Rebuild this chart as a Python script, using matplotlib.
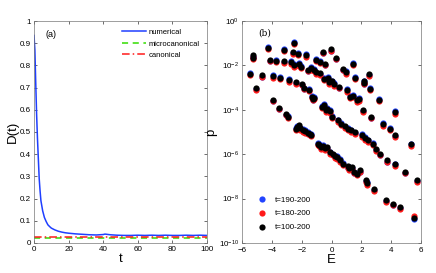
import numpy as np
import matplotlib
matplotlib.use("Agg")
import matplotlib.pyplot as plt

plt.rcParams['font.family'] = ['Liberation Sans', 'DejaVu Sans']

# ---- panel (a): D(t) ----
t_num = [0, 0.5, 1, 1.5, 2, 2.5, 3, 3.5, 4, 5, 6, 7, 8, 9, 10, 12, 14, 16, 18, 20,
         24, 28, 32, 36, 40, 41, 42, 44, 48, 52, 56, 60, 64, 68, 72, 76, 80, 84,
         88, 92, 96, 100]
D_num = [0.935, 0.87, 0.72, 0.58, 0.47, 0.38, 0.29, 0.235, 0.19, 0.145, 0.115, 0.097,
         0.082, 0.074, 0.067, 0.059, 0.053, 0.049, 0.046, 0.044, 0.041, 0.039, 0.037,
         0.036, 0.038, 0.040, 0.039, 0.037, 0.035, 0.034, 0.034, 0.035, 0.034, 0.035,
         0.034, 0.035, 0.034, 0.034, 0.035, 0.034, 0.035, 0.034]
t_ref = [0, 100]
D_micro = [0.022, 0.022]
D_canon = [0.027, 0.027]

# ---- panel (b): p(E) on log scale (values are log10 p) ----
E = [-5.44, -5.26, -5.26, -5.04, -4.66, -4.28, -4.15, -3.93, -3.93, -3.75,
     -3.52, -3.43, -3.17, -3.17, -3.03, -2.94, -2.85, -2.59, -2.54, -2.50,
     -2.41, -2.27, -2.36, -2.19, -2.05, -2.00, -1.92, -1.83, -1.69, -1.60,
     -1.52, -1.43, -1.30, -1.25, -1.03, -1.03, -0.94, -0.80, -0.76, -0.71,
     -0.62, -0.58, -0.53, -0.42, -0.40, -0.31, -0.18, -0.04, 0.02, 0.09,
     0.18, 0.31, 0.36, 0.47, 0.63, 0.76, 0.76, 0.89, 0.98, 1.07,
     1.21, 1.36, 1.43, 1.52, 1.60, 1.60, 1.70, 1.92, 2.03, 2.10,
     2.19, 2.19, 2.28, 2.41, 2.50, 2.59, 2.63, 2.77, 2.86, 2.99,
     3.15, 3.26, 3.44, 3.70, 3.66, 3.88, 4.10, 4.28, 4.28, 4.28,
     4.55, 4.95, 5.31, 5.53, 5.71,
     -2.30, -2.10, -1.75, -1.55, -1.35, -0.85, -0.55, -0.45, -0.10, 0.25,
     0.55, 1.15, 1.70, 2.35,
     -1.15, -0.50, -0.30, -0.10, 0.45, 1.10, 1.30, 2.25,
     -2.75, -2.20, -1.40, -1.20, -0.25, 0.05, 1.00, 1.45, 1.85]
lp_100 = [-2.37, -1.55, -1.65, -3.00, -2.45, -1.22, -1.74, -2.49, -3.54, -1.80,
          -3.90, -2.55, -1.29, -1.80, -4.17, -4.32, -2.67, -1.40, -0.99, -2.00,
          -2.75, -1.47, -4.85, -4.70, -2.07, -2.82, -4.92, -3.00, -1.55, -2.19,
          -3.09, -5.08, -3.42, -3.50, -1.74, -2.30, -5.53, -2.35, -1.84, -5.68,
          -3.87, -1.40, -2.60, -1.93, -4.02, -5.68, -2.75, -1.28, -4.32, -5.98,
          -2.84, -1.65, -6.13, -2.97, -4.62, -2.15, -6.43, -4.74, -2.30, -6.55,
          -3.42, -6.58, -1.92, -6.80, -2.55, -5.00, -3.57, -6.73, -5.15, -4.02,
          -2.72, -2.79, -7.18, -5.38, -2.40, -3.05, -4.32, -5.53, -7.55, -5.77,
          -3.54, -5.98, -4.65, -6.28, -8.08, -4.85, -8.23, -4.10, -5.15, -6.46,
          -8.38, -6.80, -5.56, -8.86, -7.18,
          -4.78, -4.84, -4.97, -5.03, -5.13, -5.58, -5.64, -5.74, -5.92, -6.10,
          -6.27, -6.62, -6.88, -7.30,
          -3.45, -3.80, -3.97, -4.06, -4.48, -4.85, -4.93, -5.27,
          -1.86, -1.94, -2.12, -2.20, -2.56, -2.72, -3.12, -3.36, -3.52]
lp_180 = [-2.43, -1.62, -1.72, -3.10, -2.52, -1.28, -1.80, -2.55, -3.62, -1.86,
          -3.97, -2.62, -1.35, -1.87, -4.24, -4.38, -2.74, -1.47, -1.05, -2.07,
          -2.82, -1.54, -4.92, -4.77, -2.13, -2.89, -4.99, -3.07, -1.62, -2.26,
          -3.16, -5.15, -3.49, -3.57, -1.81, -2.37, -5.60, -2.42, -1.91, -5.75,
          -3.94, -1.46, -2.67, -2.00, -4.09, -5.75, -2.82, -1.34, -4.39, -6.05,
          -2.91, -1.72, -6.20, -3.04, -4.69, -2.22, -6.50, -4.81, -2.37, -6.62,
          -3.49, -6.65, -1.99, -6.87, -2.62, -5.07, -3.64, -6.80, -5.22, -4.09,
          -2.79, -2.86, -7.25, -5.45, -2.47, -3.12, -4.39, -5.60, -7.65, -5.84,
          -3.61, -6.05, -4.72, -6.35, -8.15, -4.92, -8.30, -4.17, -5.22, -6.53,
          -8.45, -6.87, -5.63, -8.80, -7.25,
          -4.85, -4.91, -5.04, -5.10, -5.20, -5.65, -5.71, -5.81, -5.99, -6.17,
          -6.34, -6.69, -6.95, -7.37,
          -3.52, -3.87, -4.04, -4.13, -4.55, -4.92, -5.00, -5.34,
          -1.93, -2.01, -2.19, -2.27, -2.63, -2.79, -3.19, -3.43, -3.59]
lp_190 = [-2.33, -1.60, -1.60, -3.06, -2.50, -1.18, -1.79, -2.45, -3.60, -1.76,
          -3.95, -2.50, -1.25, -1.85, -4.22, -4.27, -2.62, -1.45, -0.95, -1.95,
          -2.80, -1.43, -4.80, -4.76, -2.02, -2.87, -4.88, -3.05, -1.50, -2.24,
          -3.05, -5.13, -3.38, -3.55, -1.70, -2.35, -5.49, -2.40, -1.80, -5.73,
          -3.83, -1.45, -2.56, -1.98, -3.98, -5.73, -2.71, -1.33, -4.28, -6.03,
          -2.80, -1.70, -6.09, -3.02, -4.58, -2.20, -6.39, -4.79, -2.26, -6.60,
          -3.38, -6.63, -1.88, -6.85, -2.51, -5.05, -3.53, -6.78, -5.11, -4.07,
          -2.68, -2.84, -7.23, -5.34, -2.45, -3.01, -4.37, -5.49, -7.60, -5.82,
          -3.50, -6.03, -4.61, -6.33, -8.13, -4.81, -8.28, -4.06, -5.20, -6.42,
          -8.43, -6.85, -5.52, -8.93, -7.23,
          -4.72, -4.80, -4.93, -5.00, -5.08, -5.55, -5.60, -5.70, -5.88, -6.06,
          -6.23, -6.58, -6.84, -7.26,
          -3.41, -3.76, -3.93, -4.02, -4.44, -4.81, -4.89, -5.23,
          -1.82, -1.90, -2.08, -2.16, -2.52, -2.68, -3.08, -3.32, -3.48]

fig = plt.figure(figsize=(4.36, 2.73), dpi=100)
ax1 = fig.add_axes([0.078, 0.110, 0.397, 0.813])
ax2 = fig.add_axes([0.555, 0.110, 0.411, 0.813])

tick_fs = 5.8

# panel (a)
ax1.plot(t_num, D_num, color='#1f3fff', lw=1.1, label='numerical')
ax1.plot(t_ref, D_micro, color='#33dd00', lw=1.1, ls=(0, (4, 3)), label='microcanonical')
ax1.plot(t_ref, D_canon, color='#ff1a1a', lw=1.1, ls=(0, (5, 2, 1, 2)), label='canonical')
ax1.set_xlim(0, 100)
ax1.set_ylim(0, 1)
ax1.set_xticks(np.arange(0, 101, 20))
ax1.set_yticks(np.arange(0, 1.01, 0.1))
ax1.set_yticklabels(['0', '0.1', '0.2', '0.3', '0.4', '0.5', '0.6', '0.7', '0.8', '0.9', '1'])
ax1.set_xlabel('t', fontsize=9.5, labelpad=0)
ax1.set_ylabel('D(t)', fontsize=9.5, labelpad=1)
ax1.text(10, 0.94, '(a)', fontsize=6.5, ha='center', va='center')
ax1.legend(loc='upper right', frameon=False, fontsize=5.5, handlelength=3.2,
           handletextpad=0.3, labelspacing=0.55, borderaxespad=0.6)

# panel (b)
ax2.scatter(E, [10 ** v for v in lp_190], s=20, color='#2244ff', lw=0, label='t=190-200', zorder=2)
ax2.scatter(E, [10 ** v for v in lp_180], s=20, color='#ff1a1a', lw=0, label='t=180-200', zorder=3)
ax2.scatter(E, [10 ** v for v in lp_100], s=20, color='black', lw=0, label='t=100-200', zorder=4)
ax2.set_yscale('log')
ax2.set_xlim(-6, 6)
ax2.set_ylim(1e-10, 1)
ax2.set_xticks(np.arange(-6, 7, 2))
ax2.set_yticks([1e-10, 1e-8, 1e-6, 1e-4, 1e-2, 1])
ax2.yaxis.set_minor_locator(matplotlib.ticker.NullLocator())
ax2.set_xlabel('E', fontsize=9.5, labelpad=0)
ax2.set_ylabel('p', fontsize=9.5, labelpad=1)
ax2.text(-4.5, 0.28, '(b)', fontsize=6.5, family='DejaVu Serif', ha='center', va='center')
ax2.legend(loc='lower left', frameon=False, fontsize=5.8, handletextpad=0.6,
           labelspacing=0.75, borderaxespad=0.0, scatterpoints=1,
           bbox_to_anchor=(0.05, 0.04))

for ax in (ax1, ax2):
    ax.tick_params(direction='in', top=True, right=True, labelsize=tick_fs,
                   length=2.5, width=0.5, pad=2, colors='#333333', labelcolor='black')
    for sp in ax.spines.values():
        sp.set_linewidth(0.5)
        sp.set_color('#777777')
ax2.tick_params(axis='x', pad=3)

fig.savefig('out.png', dpi=100)
